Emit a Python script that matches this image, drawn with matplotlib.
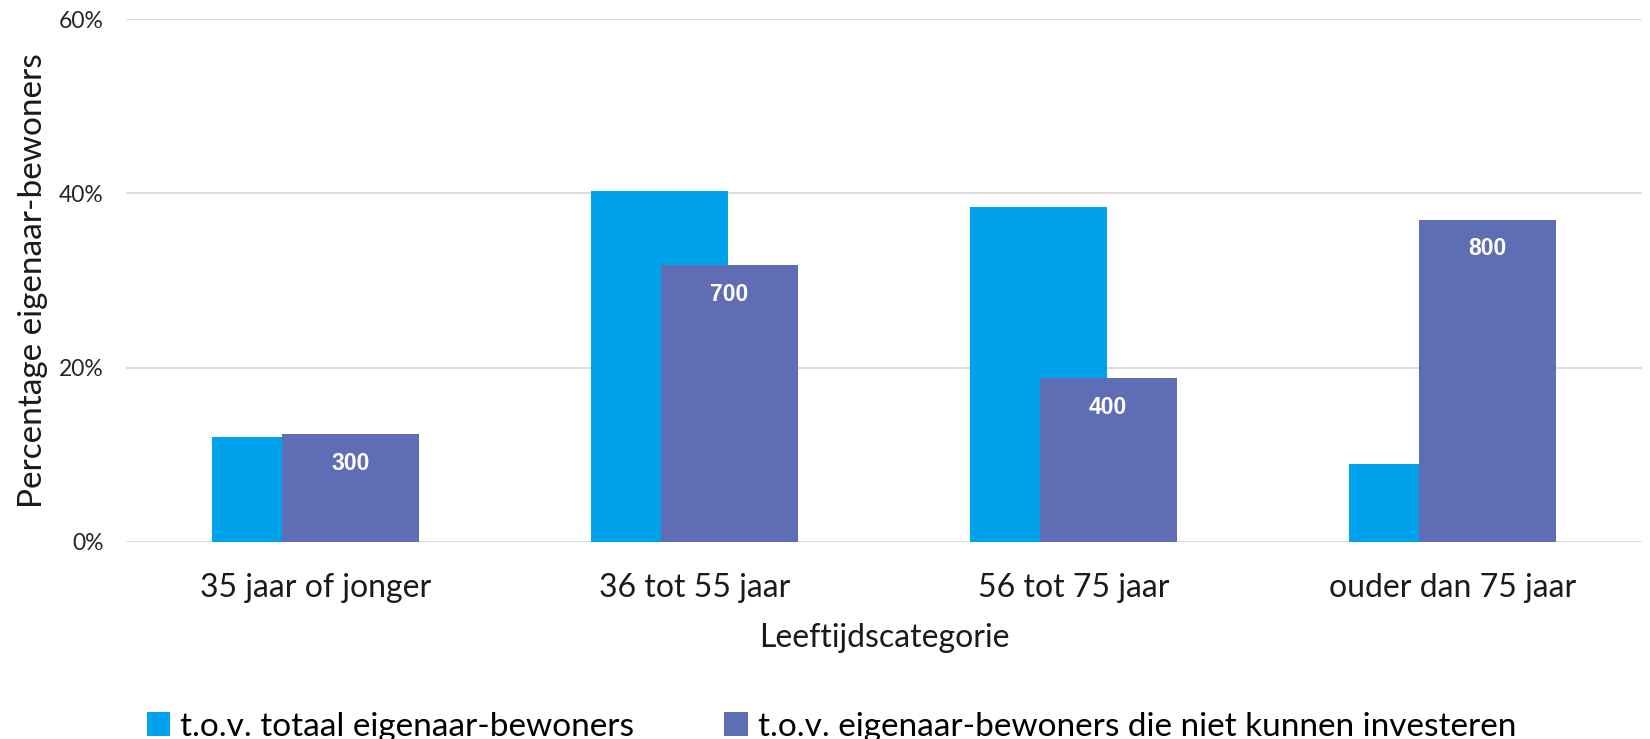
import numpy as np
import matplotlib
matplotlib.use("Agg")
import matplotlib.pyplot as plt
from matplotlib.ticker import FuncFormatter

plt.rcParams['font.family'] = ['Lato', 'DejaVu Sans']

categories = ["35 jaar of jonger", "36 tot 55 jaar", "56 tot 75 jaar", "ouder dan 75 jaar"]
totaal = [12.1, 40.3, 38.5, 8.9]
niet_investeren = [12.4, 31.8, 18.8, 37.0]
aantallen = ["300", "700", "400", "800"]
series_names = ["t.o.v. totaal eigenaar-bewoners",
                "t.o.v. eigenaar-bewoners die niet kunnen investeren"]

col_light = "#00A2EB"
col_dark = "#5F6DB4"

fig = plt.figure(figsize=(16.5, 7.39), dpi=100)
ax = fig.add_axes([0.0764, 0.2666, 0.9186, 0.7074])

x = np.arange(len(categories))
w = 0.361
off = 0.092
ax.bar(x - off, totaal, w, color=col_light, label=series_names[0], zorder=2)
b2 = ax.bar(x + off, niet_investeren, w, color=col_dark, label=series_names[1], zorder=3)

# aantallen in de donkere balken
for rect, txt in zip(b2, aantallen):
    ax.annotate(txt, (rect.get_x() + rect.get_width() / 2, rect.get_height()),
                xytext=(0, -21), textcoords="offset points", ha="center", va="center",
                color="white", fontsize=16.5, fontweight="bold", family="Liberation Sans",
                zorder=4)

ax.set_xlim(-0.5, 3.5)
ax.set_ylim(0, 60)
ax.set_yticks([0, 20, 40, 60])
ax.yaxis.set_major_formatter(FuncFormatter(lambda v, p: "%d%%" % v))
ax.grid(axis="y", color="#D9D9D9", linewidth=1.3, zorder=0)
ax.set_axisbelow(True)
for s in ax.spines.values():
    s.set_visible(False)
ax.tick_params(axis="both", length=0)
ax.tick_params(axis="y", labelsize=16.5, pad=16, labelcolor="#262626")
ax.set_xticks(x)
ax.set_xticklabels(categories, fontsize=23, color="#1a1a1a")
ax.tick_params(axis="x", pad=22)

ax.set_xlabel("Leeftijdscategorie", fontsize=23, color="#1a1a1a", labelpad=15)
ax.set_ylabel("Percentage eigenaar-bewoners", fontsize=24, color="#1a1a1a", labelpad=8)

fig.legend(loc="lower center", bbox_to_anchor=(0.504, -0.044), ncol=2, frameon=False,
           fontsize=24, handlelength=0.7, handleheight=0.7, handletextpad=0.3,
           columnspacing=2.7)

fig.savefig("out.png", dpi=100)
